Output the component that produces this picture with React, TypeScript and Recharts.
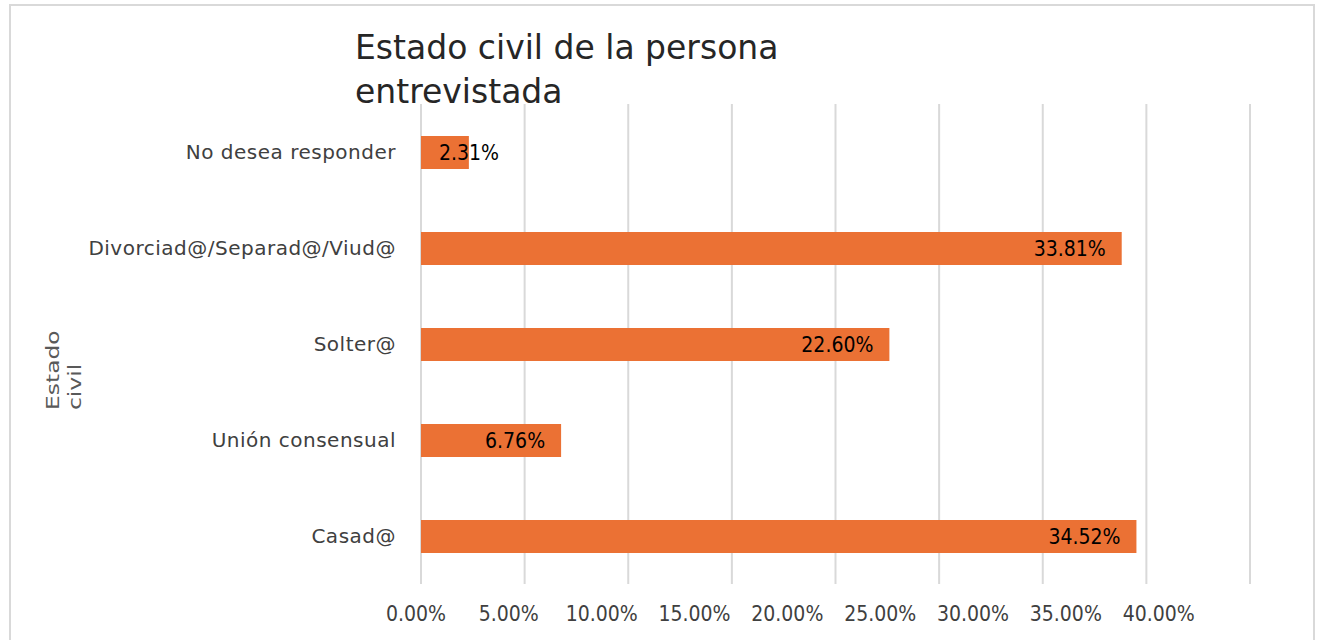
import React from 'react';
import { BarChart, Bar, XAxis, YAxis, CartesianGrid, LabelList } from 'recharts';

const categories = ['No desea responder', 'Divorciad@/Separad@/Viud@', 'Solter@', 'Unión consensual', 'Casad@'];
const shares = [0.0231, 0.3381, 0.226, 0.0676, 0.3452];
const gridTicks = [0, 0.05, 0.1, 0.15, 0.2, 0.25, 0.3, 0.35, 0.4];

const data = categories.map((name, i) => ({ name, value: shares[i] }));

const pct = (v: number) => `${(v * 100).toFixed(2)}%`;

const BAR_COLOR = '#EB7134';

const ValueLabel = (props: any) => {
  const { x, y, width, height, value } = props;
  const inside = width > 90;
  return (
    <text
      x={inside ? x + width - 16 : x + 18}
      y={y + height / 2}
      textAnchor={inside ? 'end' : 'start'}
      dominantBaseline="central"
      fontFamily="DejaVu Sans Condensed"
      fontSize={21}
      fill="#000"
    >
      {pct(value)}
    </text>
  );
};

const App: React.FC = () => {
  return (
    <div style={{ position: 'absolute', left: 0, top: 0, width: 1317, height: 640, overflow: 'hidden', background: '#fff' }}>
      <div
        style={{
          position: 'absolute',
          left: 9,
          top: 4,
          width: 1302,
          height: 700,
          border: '2px solid #d9d9d9',
        }}
      />
      <div
        style={{
          position: 'absolute',
          left: 355,
          top: 26,
          fontFamily: 'DejaVu Sans',
          fontSize: 33,
          lineHeight: '44px',
          color: '#262626',
        }}
      >
        Estado civil de la persona
        <br />
        entrevistada
      </div>
      <div
        style={{
          position: 'absolute',
          left: 0,
          top: 0,
          transformOrigin: '0 0',
          transform: 'translate(42px, 410px) rotate(-90deg) scale(1.3, 1)',
          fontFamily: 'DejaVu Sans',
          fontSize: 18,
          lineHeight: '22px',
          color: '#595959',
          whiteSpace: 'nowrap',
        }}
      >
        Estado
        <br />
        civil
      </div>
      <div style={{ position: 'absolute', left: 0, top: 0 }}>
        <BarChart
          width={1317}
          height={640}
          data={data}
          layout="vertical"
          margin={{ top: 104, right: 67, left: 0, bottom: 16 }}
        >
          <CartesianGrid xAxisId="grid" horizontal={false} stroke="#d9d9d9" strokeWidth={2} />
          <XAxis xAxisId="grid" type="number" domain={[0, 0.4]} ticks={gridTicks} height={0} hide />
          <XAxis
            xAxisId="labels"
            type="number"
            domain={[0, 0.4465]}
            allowDataOverflow
            ticks={gridTicks}
            tickFormatter={pct}
            axisLine={false}
            tickLine={false}
            tickSize={0}
            tickMargin={22}
            height={40}
            dx={-5}
            tick={{ fontFamily: 'DejaVu Sans Condensed', fontSize: 21, fill: '#404040' }}
          />
          <YAxis
            type="category"
            dataKey="name"
            width={421}
            axisLine={false}
            tickLine={false}
            tickSize={0}
            tickMargin={25}
            interval={0}
            tick={{ fontFamily: 'DejaVu Sans', fontSize: 20, fill: '#404040', letterSpacing: 0.5 }}
          />
          <Bar xAxisId="grid" dataKey="value" fill={BAR_COLOR} barSize={33} isAnimationActive={false}>
            <LabelList dataKey="value" content={ValueLabel} />
          </Bar>
        </BarChart>
      </div>
    </div>
  );
};

export default App;
